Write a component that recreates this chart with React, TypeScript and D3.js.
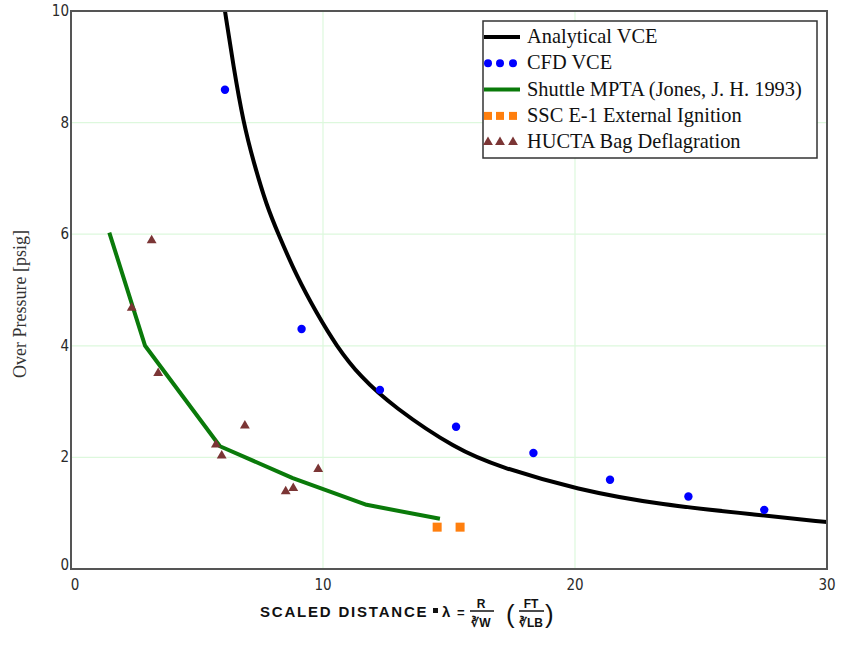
import React from 'react';
import * as d3 from 'd3';

// Analytical VCE curve
const vceX = [6.11, 6.44, 6.84, 7.24, 7.77, 8.23, 8.95, 9.74, 10.54, 11.47, 12.78, 15.3, 17.0, 20.1, 23.4, 27.3, 30];
const vceY = [10.0, 9.02, 8.0, 7.3, 6.5, 6.0, 5.25, 4.59, 3.99, 3.45, 2.91, 2.14, 1.83, 1.42, 1.15, 0.97, 0.84];

// CFD VCE points
const cfdX = [6.11, 9.15, 12.26, 15.28, 18.35, 21.39, 24.5, 27.51];
const cfdY = [8.59, 4.3, 3.21, 2.55, 2.08, 1.6, 1.3, 1.06];

// Shuttle MPTA (Jones, J. H. 1993)
const mptaX = [1.52, 2.94, 5.91, 8.8, 11.73, 14.64];
const mptaY = [6.03, 4.0, 2.2, 1.63, 1.15, 0.9];

// SSC E-1 External Ignition
const sscX = [14.53, 15.44];
const sscY = [0.75, 0.75];

// HUCTA Bag Deflagration
const huctaX = [3.2, 2.41, 3.46, 6.9, 5.75, 5.98, 9.81, 8.82, 8.52];
const huctaY = [5.89, 4.68, 3.51, 2.57, 2.23, 2.03, 1.79, 1.45, 1.39];

const xTicks = [0, 10, 20, 30];
const yTicks = [0, 2, 4, 6, 8, 10];

const legendLabels = [
  'Analytical VCE',
  'CFD VCE',
  'Shuttle MPTA (Jones, J. H. 1993)',
  'SSC E-1 External Ignition',
  'HUCTA Bag Deflagration',
];

const W = 843;
const H = 647;
const M = { left: 71, top: 11, right: 16, bottom: 78 };
const TICK_FONT = '"DejaVu Sans Condensed", Tahoma, sans-serif';
const SERIF = '"Liberation Serif", "Times New Roman", serif';

const zip = (xs: number[], ys: number[]) => xs.map((x, i) => [x, ys[i]] as [number, number]);

export default function App() {
  const innerW = W - M.left - M.right;
  const innerH = H - M.top - M.bottom;
  const x = d3.scaleLinear().domain([0, 30]).range([M.left, M.left + innerW]);
  const y = d3.scaleLinear().domain([0, 10]).range([M.top + innerH, M.top]);

  const curve = d3.line<[number, number]>()
    .x((d) => x(d[0]))
    .y((d) => y(d[1]))
    .curve(d3.curveBasis);
  const poly = d3.line<[number, number]>()
    .x((d) => x(d[0]))
    .y((d) => y(d[1]));
  const tri = d3.symbol().type(d3.symbolTriangle).size(42)() as string;

  const lx = 483;
  const ly = 21;
  const rowY = (i: number) => ly + 16 + i * 26.3;

  return (
    <svg width={W} height={H} style={{ position: 'absolute', left: 0, top: 0, background: '#fff' }}>
      <defs>
        <clipPath id="plot">
          <rect x={M.left} y={M.top} width={innerW} height={innerH} />
        </clipPath>
      </defs>

      {/* grid */}
      {xTicks.slice(1, -1).map((t) => (
        <line key={'gx' + t} x1={x(t)} x2={x(t)} y1={M.top} y2={M.top + innerH} stroke="#ddf8dd" strokeWidth={1.2} />
      ))}
      {yTicks.slice(1, -1).map((t) => (
        <line key={'gy' + t} x1={M.left} x2={M.left + innerW} y1={y(t)} y2={y(t)} stroke="#ddf8dd" strokeWidth={1.2} />
      ))}

      {/* tick labels */}
      {yTicks.map((t) => (
        <text key={'ty' + t} x={M.left - 2} y={y(t) + (t === 0 ? 1 : 5)} textAnchor="end"
          fontFamily={TICK_FONT} fontSize={15} fill="#2a2a2a">{t}</text>
      ))}
      {xTicks.map((t) => (
        <text key={'tx' + t} x={x(t) + (t === 0 ? 4 : 0)} y={M.top + innerH + 21} textAnchor="middle"
          fontFamily={TICK_FONT} fontSize={15} fill="#2a2a2a">{t}</text>
      ))}

      <g clipPath="url(#plot)">
        <path d={curve(zip(vceX, vceY)) ?? ''} fill="none" stroke="#000" strokeWidth={4} />
        <path d={poly(zip(mptaX, mptaY)) ?? ''} fill="none" stroke="#0a7a0a" strokeWidth={4} strokeLinejoin="round" />
        {zip(cfdX, cfdY).map((d, i) => (
          <circle key={'c' + i} cx={x(d[0])} cy={y(d[1])} r={4.2} fill="#0000ff" />
        ))}
        {zip(sscX, sscY).map((d, i) => (
          <rect key={'s' + i} x={x(d[0]) - 4.5} y={y(d[1]) - 4.5} width={9} height={9} fill="#ff7f0e" />
        ))}
        {zip(huctaX, huctaY).map((d, i) => (
          <path key={'h' + i} d={tri} transform={`translate(${x(d[0])},${y(d[1])})`} fill="#7b3535" />
        ))}
      </g>

      {/* frame */}
      <rect x={M.left} y={M.top} width={innerW} height={innerH} fill="none" stroke="#555" strokeWidth={2} />

      {/* legend */}
      <g>
        <rect x={lx} y={ly} width={334} height={137} fill="#fff" stroke="#333" strokeWidth={1.5} />
        <line x1={lx + 1} x2={lx + 37} y1={rowY(0)} y2={rowY(0)} stroke="#000" strokeWidth={4} />
        {[5, 17, 30].map((dx) => (
          <circle key={'lc' + dx} cx={lx + dx} cy={rowY(1)} r={4} fill="#0000ff" />
        ))}
        <line x1={lx + 1} x2={lx + 37} y1={rowY(2)} y2={rowY(2)} stroke="#0a7a0a" strokeWidth={4} />
        {[5, 17, 30].map((dx) => (
          <rect key={'ls' + dx} x={lx + dx - 4} y={rowY(3) - 4} width={8} height={8} fill="#ff7f0e" />
        ))}
        {[5, 17, 30].map((dx) => (
          <path key={'lt' + dx} d={tri} transform={`translate(${lx + dx},${rowY(4)})`} fill="#7b3535" />
        ))}
        {legendLabels.map((s, i) => (
          <text key={s} x={lx + 44} y={rowY(i) + 6} fontFamily={SERIF} fontSize={20.4} fill="#111">{s}</text>
        ))}
      </g>

      {/* y axis label */}
      <text transform={`translate(26,${M.top + innerH / 2 + 14}) rotate(-90)`} textAnchor="middle"
        fontFamily={SERIF} fontSize={18} fill="#333">Over Pressure [psig]</text>

      {/* x axis label */}
      <g fontFamily='"Liberation Sans", Arial, sans-serif' fontWeight="bold" fill="#111">
        <text x={260} y={617} fontSize={15} letterSpacing={1.8}>SCALED DISTANCE</text>
        <rect x={433} y={608} width={5} height={5} fill="#111" />
        <text x={442} y={617} fontSize={15}>λ</text>
        <text x={457} y={617} fontSize={13}>=</text>
        <text x={481} y={608} fontSize={12} textAnchor="middle">R</text>
        <line x1={470} x2={494} y1={611} y2={611} stroke="#111" strokeWidth={1.5} />
        <text x={481} y={627} fontSize={12} textAnchor="middle">∛W</text>
        <text x={506} y={623} fontSize={26} fontWeight="normal">(</text>
        <text x={531} y={608} fontSize={12} textAnchor="middle">FT</text>
        <line x1={519} x2={544} y1={611} y2={611} stroke="#111" strokeWidth={1.5} />
        <text x={531} y={627} fontSize={12} textAnchor="middle">∛LB</text>
        <text x={545} y={623} fontSize={26} fontWeight="normal">)</text>
      </g>
    </svg>
  );
}
